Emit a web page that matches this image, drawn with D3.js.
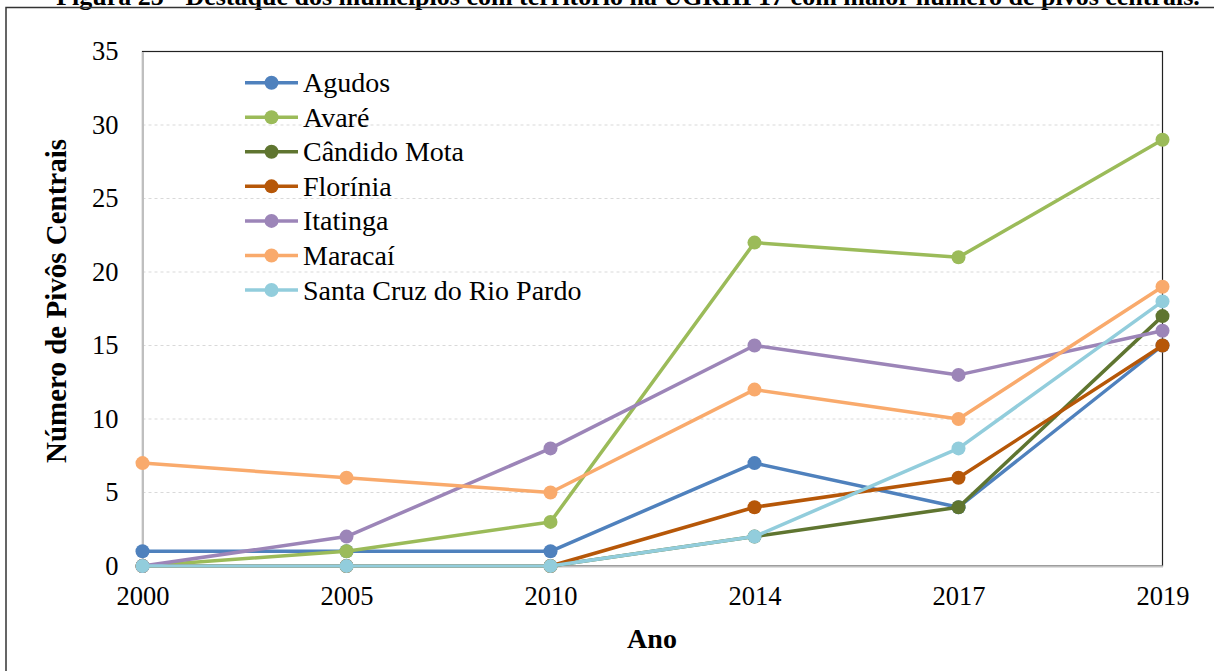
<!DOCTYPE html>
<html>
<head>
<meta charset="utf-8">
<script src="https://cdn.jsdelivr.net/npm/d3@7"></script>
<style>
  html, body { margin: 0; padding: 0; background: #fff; }
  svg { display: block; }
  svg text { font-family: "Liberation Serif", "Times New Roman", Tinos, serif; }
</style>
</head>
<body>
<svg id="chart" width="1214" height="671"></svg>
<script>
// Years surveyed and number of central pivots per municipality
const years = ["2000", "2005", "2010", "2014", "2017", "2019"];
const municipios = ["Agudos", "Avaré", "Cândido Mota", "Florínia", "Itatinga", "Maracaí", "Santa Cruz do Rio Pardo"];
const agudos      = [1, 1, 1, 7, 4, 15];
const avare       = [0, 1, 3, 22, 21, 29];
const candidoMota = [0, 0, 0, 2, 4, 17];
const florinia    = [0, 0, 0, 4, 6, 15];
const itatinga    = [0, 2, 8, 15, 13, 16];
const maracai     = [7, 6, 5, 12, 10, 19];
const santaCruz   = [0, 0, 0, 2, 8, 18];
const yTicks = [0, 5, 10, 15, 20, 25, 30, 35];
const colors = ["#4f81bd", "#9bbb59", "#5f7530", "#b65708", "#9c85b8", "#f9aa6c", "#92cddc"];

const caption = "Figura 25 - Destaque dos municípios com território na UGRHI 17 com maior número de pivôs centrais.";

const seriesValues = [agudos, avare, candidoMota, florinia, itatinga, maracai, santaCruz];
const series = municipios.map((name, i) => ({ name, color: colors[i], values: seriesValues[i] }));

const svg = d3.select("#chart");

// Figure caption (cropped by the page top) and the outer chart frame
svg.append("text")
  .attr("x", 628).attr("y", 5)
  .attr("text-anchor", "middle")
  .attr("font-size", 26).attr("font-weight", "bold")
  .attr("fill", "#000")
  .text(caption);

svg.append("path")
  .attr("d", "M6,1300 L6,7.5 L1300,7.5")
  .attr("fill", "none").attr("stroke", "#333").attr("stroke-width", 1.5);

const plot = { left: 142.5, right: 1162.5, top: 51.5, bottom: 566 };

const x = d3.scalePoint().domain(years).range([plot.left, plot.right]);
const y = d3.scaleLinear().domain([0, 35]).range([plot.bottom, plot.top]);

// Dashed horizontal gridlines
svg.append("g")
  .selectAll("line")
  .data(yTicks.filter(t => t > 0 && t < 35))
  .join("line")
  .attr("x1", plot.left).attr("x2", plot.right)
  .attr("y1", d => y(d)).attr("y2", d => y(d))
  .attr("stroke", "#d9d9d9").attr("stroke-width", 1).attr("stroke-dasharray", "3,3");

// Plot area outline
svg.append("rect")
  .attr("x", plot.left).attr("y", plot.top)
  .attr("width", plot.right - plot.left).attr("height", plot.bottom - plot.top)
  .attr("fill", "none").attr("stroke", "#222").attr("stroke-width", 1.2);

// Axes
const yAxis = svg.append("g")
  .attr("transform", `translate(${plot.left},0)`)
  .call(d3.axisLeft(y).tickValues(yTicks).tickSize(0).tickPadding(24));
yAxis.attr("font-family", null);
yAxis.select(".domain").attr("stroke", "#bfbfbf").attr("stroke-width", 2);
yAxis.selectAll("text").attr("font-size", 26.5).attr("fill", "#000");

const xAxis = svg.append("g")
  .attr("transform", `translate(0,${plot.bottom})`)
  .call(d3.axisBottom(x).tickSize(0).tickPadding(20));
xAxis.attr("font-family", null);
xAxis.select(".domain").attr("stroke", "#bfbfbf").attr("stroke-width", 2);
xAxis.selectAll("text").attr("font-size", 26.5).attr("fill", "#000");

// Axis titles
svg.append("text")
  .attr("transform", "translate(66,301) rotate(-90)")
  .attr("text-anchor", "middle")
  .attr("font-size", 29).attr("font-weight", "bold")
  .text("Número de Pivôs Centrais");

svg.append("text")
  .attr("x", 652).attr("y", 648)
  .attr("text-anchor", "middle")
  .attr("font-size", 28).attr("font-weight", "bold")
  .text("Ano");

// Series lines and markers
const line = d3.line().x((d, i) => x(years[i])).y(d => y(d));
const gSeries = svg.append("g");
series.forEach(s => {
  const g = gSeries.append("g");
  g.append("path")
    .attr("d", line(s.values))
    .attr("fill", "none").attr("stroke", s.color)
    .attr("stroke-width", 3.5).attr("stroke-linejoin", "round");
  g.selectAll("circle")
    .data(s.values)
    .join("circle")
    .attr("cx", (d, i) => x(years[i])).attr("cy", d => y(d))
    .attr("r", 7).attr("fill", s.color);
});

// Legend
const legend = svg.append("g");
const legendTop = 82.7, legendStep = 34.55;
series.forEach((s, i) => {
  const ly = legendTop + i * legendStep;
  legend.append("line")
    .attr("x1", 245).attr("x2", 298).attr("y1", ly).attr("y2", ly)
    .attr("stroke", s.color).attr("stroke-width", 3.5);
  legend.append("circle")
    .attr("cx", 271.5).attr("cy", ly).attr("r", 7).attr("fill", s.color);
  legend.append("text")
    .attr("x", 303).attr("y", ly).attr("dy", "0.34em")
    .attr("font-size", 28).attr("fill", "#000")
    .text(s.name);
});
</script>
</body>
</html>
